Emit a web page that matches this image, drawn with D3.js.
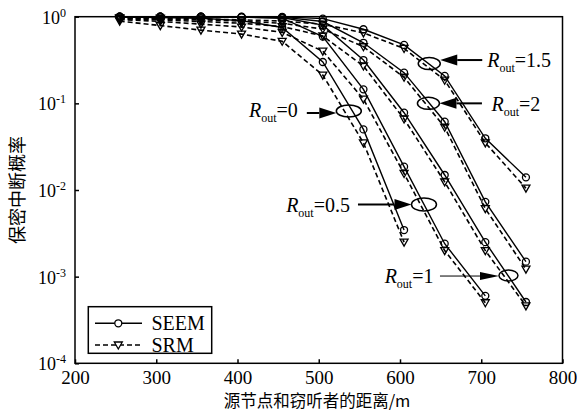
<!DOCTYPE html>
<html>
<head>
<meta charset="utf-8">
<script src="https://cdn.jsdelivr.net/npm/d3@7"></script>
<style>
	body { margin: 0; background: #fff; }
	svg text { font-family: "Liberation Serif", "Times New Roman", serif; fill: #000; }
	.cjk { font-family: "Noto Sans CJK SC", sans-serif; }
</style>
</head>
<body>
<div id="chart"></div>
<script>
const distances = [255, 305, 355, 405, 455, 505, 555, 605, 655, 705, 755];
const x_ticks = [200, 300, 400, 500, 600, 700, 800];
const y_ticks = [1, 1e-1, 1e-2, 1e-3, 1e-4];
const y_tick_exp = ["0", "-1", "-2", "-3", "-4"];

// SEEM (solid line, circles)
const seem_r0 = [0.99, 0.98, 0.96, 0.9, 0.75, 0.3, 0.05, 0.00345];
const seem_r05 = [1, 1, 0.995, 0.99, 0.96, 0.59, 0.145, 0.0186, 0.0024, 0.0006];
const seem_r1 = [1, 1, 1, 0.99, 0.98, 0.8, 0.316, 0.078, 0.0149, 0.0025, 0.00051];
const seem_r15 = [1, 1, 1, 1, 0.995, 0.95, 0.716, 0.472, 0.207, 0.0395, 0.014];
const seem_r2 = [1, 1, 1, 0.995, 0.99, 0.88, 0.5, 0.226, 0.0614, 0.0073, 0.00149];

// SRM (dashed line, triangles)
const srm_r0 = [0.89, 0.79, 0.7, 0.63, 0.52, 0.212, 0.035, 0.0025];
const srm_r05 = [0.93, 0.88, 0.82, 0.76, 0.66, 0.4, 0.112, 0.0155, 0.002, 0.0005];
const srm_r1 = [0.95, 0.92, 0.88, 0.84, 0.77, 0.6, 0.27, 0.066, 0.0124, 0.002, 0.00046];
const srm_r15 = [0.97, 0.96, 0.94, 0.92, 0.89, 0.82, 0.65, 0.43, 0.185, 0.035, 0.0105];
const srm_r2 = [0.96, 0.94, 0.92, 0.89, 0.84, 0.72, 0.45, 0.2, 0.053, 0.0061, 0.00122];

const series = [
	{ seem: seem_r0, srm: srm_r0 },
	{ seem: seem_r05, srm: srm_r05 },
	{ seem: seem_r1, srm: srm_r1 },
	{ seem: seem_r15, srm: srm_r15 },
	{ seem: seem_r2, srm: srm_r2 },
];

// labels: ellipse centre in data units, the rest is pixel offsets
const notes = [
	{ value: "0", cx: 537, cy: 0.0816, rx: 12.5, ry: 6, side: "left", a0: -42, a1: -12.5, ady: 2, tx: -51, tdy: 6, thin: false },
	{ value: "0.5", cx: 629.5, cy: 0.0068, rx: 12.5, ry: 6.5, side: "left", a0: -66, a1: -12.5, ady: 0, tx: -74, tdy: 7, thin: false },
	{ value: "1", cx: 733.5, cy: 0.00103, rx: 9.5, ry: 5.5, side: "left", a0: -68.5, a1: -9.5, ady: 0.5, tx: -75, tdy: 7.5, thin: true },
	{ value: "1.5", cx: 636, cy: 0.288, rx: 11, ry: 6, side: "right", a0: 53, a1: 11, ady: -3.5, tx: 58, tdy: 3.5, thin: false },
	{ value: "2", cx: 635, cy: 0.1, rx: 11, ry: 6, side: "right", a0: 53.5, a1: 11, ady: 0, tx: 63, tdy: 7.5, thin: false },
];

const W = 577, H = 413;
const plot = { left: 75, right: 562.5, top: 16.7, bottom: 363.3 };

const svg = d3.select("#chart")
	.append("svg")
	.attr("width", W)
	.attr("height", H);

svg.append("rect").attr("width", W).attr("height", H).attr("fill", "#fff");

const x = d3.scaleLinear().domain([200, 800]).range([plot.left, plot.right]);
const y = d3.scaleLog().domain([1e-4, 1]).range([plot.bottom, plot.top]);

// axes, ticks pointing inwards
const xAxis = svg.append("g")
	.attr("transform", `translate(0,${plot.bottom})`)
	.call(d3.axisBottom(x).tickValues(x_ticks).tickSize(-4).tickSizeOuter(0).tickPadding(7));
xAxis.selectAll("text").style("font-size", "19px");

const yAxis = svg.append("g")
	.attr("transform", `translate(${plot.left},0)`)
	.call(d3.axisLeft(y).tickValues(y_ticks).tickSize(-4).tickSizeOuter(0).tickFormat(""));

yAxis.selectAll(".tick").each(function (d, i) {
	const t = d3.select(this).append("text")
		.attr("x", -9)
		.attr("y", 6.5)
		.attr("text-anchor", "end")
		.style("font-size", "18px");
	t.append("tspan").text("10");
	t.append("tspan").attr("dy", -7).style("font-size", "12px").text(y_tick_exp[i]);
});
svg.selectAll(".domain").remove();
svg.selectAll(".tick line").attr("stroke", "#000").attr("stroke-width", 1.5);

// frame
svg.append("rect")
	.attr("x", plot.left)
	.attr("y", plot.top)
	.attr("width", plot.right - plot.left)
	.attr("height", plot.bottom - plot.top)
	.attr("fill", "none")
	.attr("stroke", "#000")
	.attr("stroke-width", 1.5);

const line = d3.line().x((d) => x(d[0])).y((d) => y(d[1]));
const tri = (cx, cy) => `M${cx - 4},${cy - 3}L${cx + 4},${cy - 3}L${cx},${cy + 4}Z`;

series.forEach((s) => {
	const pSrm = s.srm.map((v, i) => [distances[i], v]);
	const pSeem = s.seem.map((v, i) => [distances[i], v]);

	svg.append("path")
		.datum(pSrm)
		.attr("d", line)
		.attr("fill", "none")
		.attr("stroke", "#000")
		.attr("stroke-width", 1.6)
		.attr("stroke-dasharray", "5,3");

	svg.append("path")
		.datum(pSeem)
		.attr("d", line)
		.attr("fill", "none")
		.attr("stroke", "#000")
		.attr("stroke-width", 1.4);

	svg.append("g")
		.selectAll("path")
		.data(pSrm)
		.join("path")
		.attr("d", (d) => tri(x(d[0]), y(d[1])))
		.attr("fill", "none")
		.attr("stroke", "#000")
		.attr("stroke-width", 1.3);

	svg.append("g")
		.selectAll("circle")
		.data(pSeem)
		.join("circle")
		.attr("cx", (d) => x(d[0]))
		.attr("cy", (d) => y(d[1]))
		.attr("r", 3.5)
		.attr("fill", "none")
		.attr("stroke", "#000")
		.attr("stroke-width", 1.3);
});

// R_out annotations
notes.forEach((n) => {
	const cx = x(n.cx), cy = y(n.cy);
	svg.append("ellipse")
		.attr("cx", cx).attr("cy", cy)
		.attr("rx", n.rx).attr("ry", n.ry)
		.attr("fill", "none")
		.attr("stroke", "#000")
		.attr("stroke-width", 1.5);

	const ay = cy + n.ady;
	const dir = n.a1 > n.a0 ? 1 : -1;
	const tip = cx + n.a1;
	const headLen = n.thin ? 19 : 17;
	const headH = n.thin ? 4 : 5.5;
	svg.append("line")
		.attr("x1", cx + n.a0).attr("x2", tip - dir * headLen)
		.attr("y1", ay).attr("y2", ay)
		.attr("stroke", "#000")
		.attr("stroke-width", n.thin ? 1 : 2);
	svg.append("path")
		.attr("d", `M${tip},${ay}L${tip - dir * headLen},${ay - headH}L${tip - dir * headLen},${ay + headH}Z`)
		.attr("fill", "#000");

	const t = svg.append("text")
		.attr("x", cx + n.tx)
		.attr("y", cy + n.tdy)
		.attr("text-anchor", n.side === "left" ? "end" : "start")
		.style("font-size", "20px");
	t.append("tspan").style("font-style", "italic").text("R");
	t.append("tspan").attr("dy", 5).style("font-size", "12px").text("out");
	t.append("tspan").attr("dy", -5).text("=" + n.value);
});

// legend
const lg = svg.append("g");
lg.append("rect")
	.attr("x", 88.3).attr("y", 306.7)
	.attr("width", 123.4).attr("height", 46.6)
	.attr("fill", "#fff")
	.attr("stroke", "#000")
	.attr("stroke-width", 1.5);
[
	{ name: "SEEM", dash: null, mark: "circle", ly: 323.3 },
	{ name: "SRM", dash: "5,3", mark: "tri", ly: 345 },
].forEach((e) => {
	lg.append("line")
		.attr("x1", 95).attr("x2", 142)
		.attr("y1", e.ly).attr("y2", e.ly)
		.attr("stroke", "#000")
		.attr("stroke-width", 1.5)
		.attr("stroke-dasharray", e.dash);
	if (e.mark === "circle") {
		lg.append("circle").attr("cx", 118.3).attr("cy", e.ly).attr("r", 3.5)
			.attr("fill", "#fff").attr("stroke", "#000").attr("stroke-width", 1.3);
	} else {
		lg.append("path").attr("d", tri(118.3, e.ly))
			.attr("fill", "#fff").attr("stroke", "#000").attr("stroke-width", 1.3);
	}
	lg.append("text")
		.attr("x", 151.5).attr("y", e.ly + 7)
		.style("font-size", "20px")
		.text(e.name);
});

// axis titles
svg.append("text")
	.attr("class", "cjk")
	.attr("x", 317)
	.attr("y", 407)
	.attr("text-anchor", "middle")
	.style("font-size", "16.5px")
	.text("源节点和窃听者的距离/m");

svg.append("text")
	.attr("class", "cjk")
	.attr("transform", "translate(24,190) rotate(-90)")
	.attr("text-anchor", "middle")
	.style("font-size", "18px")
	.text("保密中断概率");
</script>
</body>
</html>
